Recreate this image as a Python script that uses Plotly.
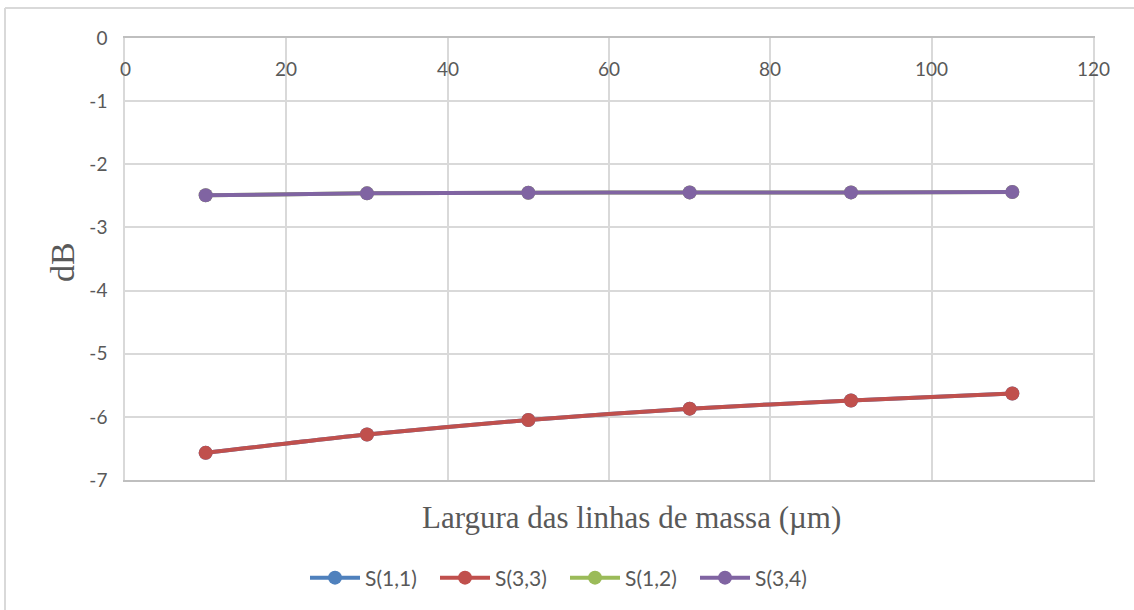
import plotly.graph_objects as go

# Ground-line width (µm) and S-parameter magnitudes (dB)
largura = [10, 30, 50, 70, 90, 110]
s11 = [-6.57, -6.28, -6.05, -5.87, -5.74, -5.63]
s33 = [-6.57, -6.28, -6.05, -5.87, -5.74, -5.63]
s12 = [-2.49, -2.46, -2.45, -2.445, -2.445, -2.44]
s34 = [-2.49, -2.46, -2.45, -2.445, -2.445, -2.44]

x_ticks = [0, 20, 40, 60, 80, 100, 120]
y_ticks = [0, -1, -2, -3, -4, -5, -6, -7]
y_tick_text = ["0", "-1", "-2", "-3", "-4", "-5", "-6", "-7"]

series = [
    ("S(1,1)", s11, "#4f81bd"),
    ("S(3,3)", s33, "#c0504d"),
    ("S(1,2)", s12, "#9bbb59"),
    ("S(3,4)", s34, "#8064a2"),
]

W, H = 1134, 610
L, R, T, B = 125, 1093, 38, 480


def px(x):
    return (x - L) / (R - L)


def py(y):
    return (B - y) / (B - T)


fig = go.Figure()
for name, vals, color in series:
    fig.add_trace(go.Scatter(
        x=largura, y=vals, name=name, mode="lines+markers",
        line=dict(color=color, width=4, shape="spline", smoothing=0.6),
        marker=dict(color=color, size=14),
    ))

grid = "#d9d9d9"
sans = "Lato, Open Sans, sans-serif"
tickfont = dict(family=sans, size=19, color="#595959")
serif = "Liberation Serif, Times New Roman, serif"

# x tick labels sit just under the top axis line, inside the plot area
annotations = [
    dict(text=str(v), xref="x", yref="paper", x=v, y=py(69), showarrow=False,
         xanchor="center", yanchor="middle", font=tickfont)
    for v in x_ticks
]
annotations += [
    dict(text="Largura das linhas de massa (µm)", xref="paper", yref="paper",
         x=px(631), y=py(517), showarrow=False, xanchor="center", yanchor="middle",
         font=dict(family=serif, size=31, color="#595959")),
    dict(text="dB", xref="paper", yref="paper", textangle=-90,
         x=px(62), y=py(262), showarrow=False, xanchor="center", yanchor="middle",
         font=dict(family=serif, size=34, color="#595959")),
]

fig.update_layout(
    width=W, height=H,
    margin=dict(l=L, r=W - R, t=T, b=H - B),
    paper_bgcolor="white", plot_bgcolor="white",
    showlegend=True,
    legend=dict(orientation="h", x=px(305), y=py(578), xanchor="left", yanchor="middle",
                font=dict(family=sans, size=21, color="#595959"),
                itemwidth=50, entrywidth=65, entrywidthmode="pixels",
                traceorder="normal"),
    xaxis=dict(range=[0, 120], tickvals=x_ticks, showticklabels=False,
               showgrid=True, gridcolor=grid, gridwidth=1.5,
               showline=True, linecolor="#bfbfbf", linewidth=1.5, mirror=True,
               ticks="", zeroline=False),
    yaxis=dict(range=[-7, 0], tickvals=y_ticks, ticktext=y_tick_text,
               showgrid=True, gridcolor=grid, gridwidth=1.5,
               showline=True, linecolor=grid, linewidth=1.5, mirror=True,
               ticks="", ticklabelstandoff=12, zeroline=False, tickfont=tickfont),
    annotations=annotations,
    shapes=[
        dict(type="line", xref="paper", yref="paper", x0=px(5), x1=px(1134),
             y0=py(8), y1=py(8), line=dict(color=grid, width=2)),
        dict(type="line", xref="paper", yref="paper", x0=px(5), x1=px(5),
             y0=py(8), y1=py(610), line=dict(color=grid, width=2)),
    ],
)

fig.write_html("out.html")
